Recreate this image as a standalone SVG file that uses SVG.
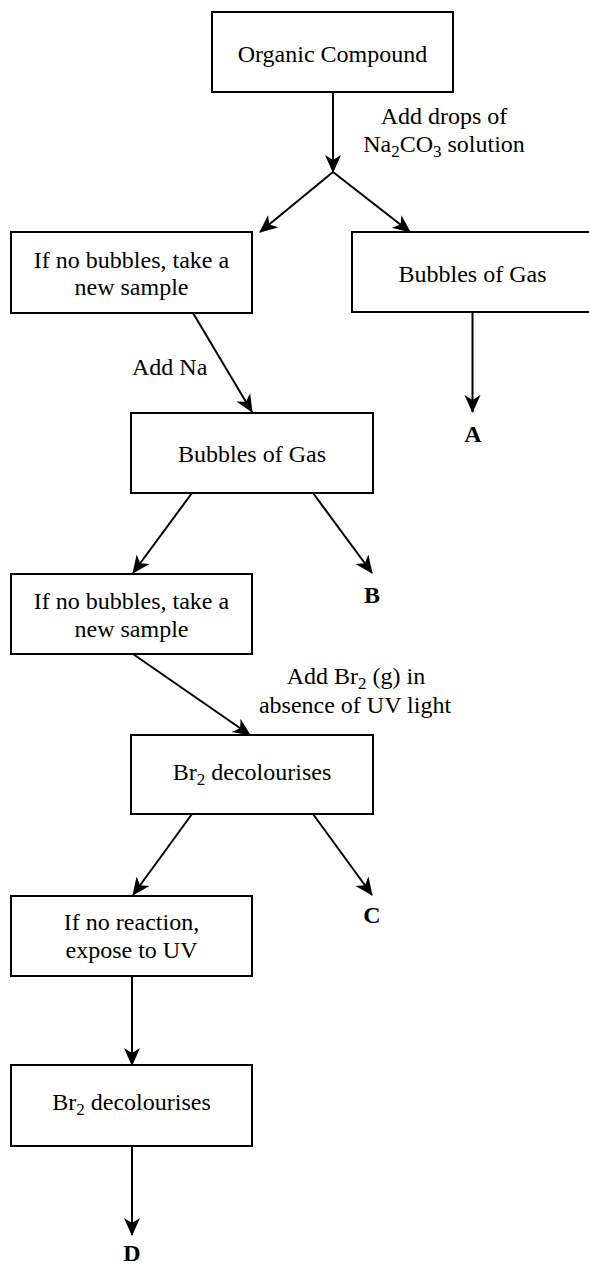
<svg xmlns="http://www.w3.org/2000/svg" width="589" height="1265" viewBox="0 0 589 1265">
<style>
.box{fill:#fff;stroke:#000;stroke-width:2}
.t{font-family:"Liberation Serif","Times New Roman",serif;font-size:24px;fill:#000}
.m{text-anchor:middle}
.b{font-weight:bold}
.sub{font-size:17px}
.c{fill:none;stroke:#000;stroke-width:2;marker-end:url(#ah)}
</style>
<defs>
<marker id="ah" markerUnits="userSpaceOnUse" markerWidth="18" markerHeight="18" viewBox="0 0 18 18" refX="17" refY="9" orient="auto">
<path d="M0,1 L18,9 L0,17 L5,9 Z" fill="#000"/>
</marker>
</defs>
<rect width="589" height="1265" fill="#fff"/>
<g id="connectors">
<path class="c" d="M333,92 L333,172"/>
<path class="c" d="M333,172 L260,232"/>
<path class="c" d="M333,172 L410,232"/>
<path class="c" d="M472.5,312 L472.5,412"/>
<path class="c" d="M193,313 L252,412"/>
<path class="c" d="M192,493 L133,573"/>
<path class="c" d="M313,493 L372,573"/>
<path class="c" d="M133,654 L250,735"/>
<path class="c" d="M192,814 L133,895"/>
<path class="c" d="M313,814 L372,895"/>
<path class="c" d="M132,976 L132,1065"/>
<path class="c" d="M132,1146 L132,1235"/>
</g>
<g id="labels">
<text class="t m" x="444" y="124">Add drops of</text>
<text class="t m" x="444" y="152">Na<tspan class="sub" dy="5">2</tspan><tspan dy="-5">CO</tspan><tspan class="sub" dy="5">3</tspan><tspan dy="-5"> solution</tspan></text>
<text class="t" x="132" y="375">Add Na</text>
<text class="t m" x="356" y="684">Add Br<tspan class="sub" dy="5">2</tspan><tspan dy="-5"> (g) in</tspan></text>
<text class="t m" x="355" y="713">absence of UV light</text>
</g>
<g id="n-organic">
<rect class="box" x="212" y="12" width="241" height="80"/>
<text class="t m" x="332.5" y="62">Organic Compound</text>
</g>
<g id="n-nobubbles1">
<rect class="box" x="11" y="232" width="241" height="81"/>
<text class="t m" x="131.5" y="268">If no bubbles, take a</text>
<text class="t m" x="131.5" y="295">new sample</text>
</g>
<g id="n-bubbles1">
<rect class="box" x="352" y="232" width="241" height="80"/>
<text class="t m" x="472.5" y="282">Bubbles of Gas</text>
</g>
<g id="n-A"><text class="t m b" x="473" y="442">A</text></g>
<g id="n-bubbles2">
<rect class="box" x="131" y="413" width="242" height="80"/>
<text class="t m" x="252" y="462">Bubbles of Gas</text>
</g>
<g id="n-B"><text class="t m b" x="372" y="603">B</text></g>
<g id="n-nobubbles2">
<rect class="box" x="11" y="574" width="241" height="80"/>
<text class="t m" x="131.5" y="609">If no bubbles, take a</text>
<text class="t m" x="131.5" y="637">new sample</text>
</g>
<g id="n-br2a">
<rect class="box" x="131" y="735" width="242" height="79"/>
<text class="t m" x="252" y="780">Br<tspan class="sub" dy="5">2</tspan><tspan dy="-5"> decolourises</tspan></text>
</g>
<g id="n-C"><text class="t m b" x="372" y="923">C</text></g>
<g id="n-noreaction">
<rect class="box" x="11" y="896" width="241" height="80"/>
<text class="t m" x="131.5" y="930">If no reaction,</text>
<text class="t m" x="131.5" y="958">expose to UV</text>
</g>
<g id="n-br2b">
<rect class="box" x="11" y="1065" width="241" height="81"/>
<text class="t m" x="131.5" y="1110">Br<tspan class="sub" dy="5">2</tspan><tspan dy="-5"> decolourises</tspan></text>
</g>
<g id="n-D"><text class="t m b" x="132" y="1261">D</text></g>
</svg>
